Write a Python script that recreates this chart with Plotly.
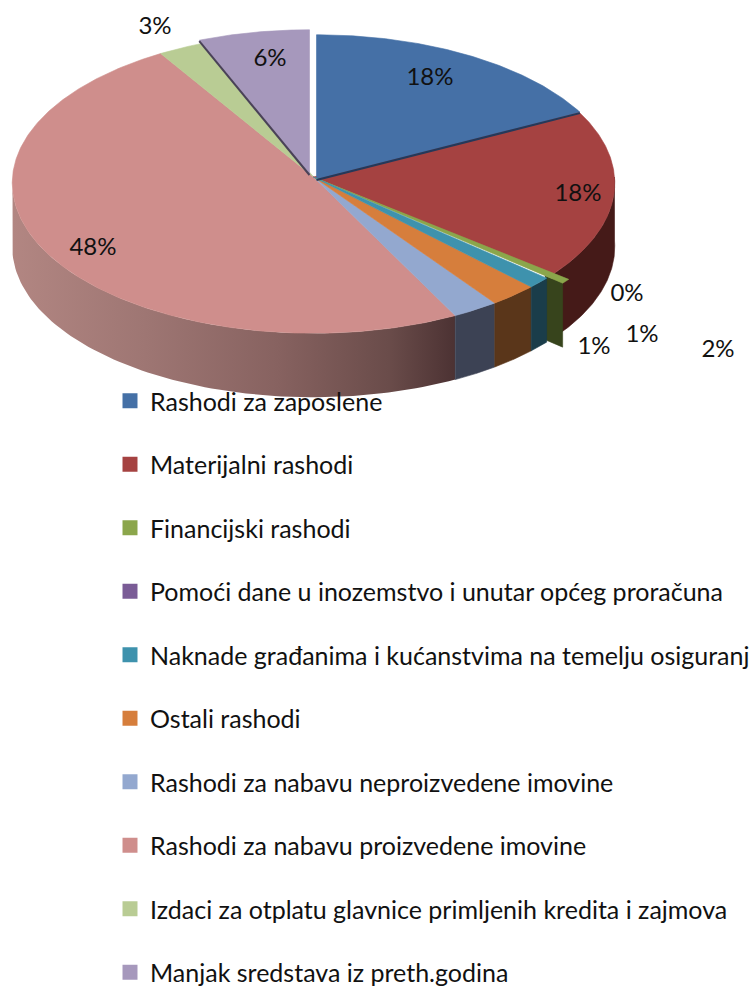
import numpy as np
import plotly.graph_objects as go

# ---- data ----
categories = [
    "Rashodi za zaposlene",
    "Materijalni rashodi",
    "Financijski rashodi",
    "Pomoći dane u inozemstvo i unutar općeg proračuna",
    "Naknade građanima i kućanstvima na temelju osiguranj",
    "Ostali rashodi",
    "Rashodi za nabavu neproizvedene imovine",
    "Rashodi za nabavu proizvedene imovine",
    "Izdaci za otplatu glavnice primljenih kredita i zajmova",
    "Manjak sredstava iz preth.godina",
]
values = [17.5, 18.4, 0.5, 0.0, 1.2, 2.5, 2.4, 48.7, 2.6, 6.2]
label_texts = ["18%", "18%", "0%", "1%", "1%", "2%", "48%", "3%", "6%"]

# ---- styles and geometry ----
top_colors = ["#4570A6", "#A54241", "#8BA64B", "#7A5C96", "#3E92AD",
              "#D67E3C", "#93A8CF", "#CF8E8C", "#B9CC94", "#A698BC"]
wall_colors = ["#24395A", "#451A18", "#37441C", "#3A2A4A", "#1A3D4A",
               "#5A361A", "#3C4254", None, "#5A6A45", "#4A4258"]
wall_gradient = [[0, "#B28682"], [0.3, "#9E7673"], [0.6, "#876260"], [0.85, "#6A4C4A"], [1, "#4C3233"]]
offsets = [(3, 2), (0, 0), (16, 5), (0, 0), (0, 0), (0, 0), (0, 0), (0, 0), (0, 0), (-4, -3)]
label_pos = [(430, 79), (578, 195), (627, 295), (642, 336), (594, 348),
             (718, 351), (93, 249), (155, 28), (270, 60)]
CX, CY, A, B, K, DEPTH = 313.5, 177, 301, 150, 0.04, 64
FONT = "Lato"
FIG_H = 1020  # taller than the window so the last legend row stays in one piece


def project(theta_deg):
    t = np.radians(theta_deg)
    u, v = np.sin(t), -np.cos(t)
    w = 1 - K * v
    return CX + A * u / w, CY + B * v / w


fig = go.Figure()
total = sum(values)
edges = np.cumsum([0] + values) / total * 360
spans = list(zip(edges[:-1], edges[1:]))


def draw(xs, ys, color, name):
    fig.add_trace(go.Scatter(
        x=xs, y=ys, mode="lines", fill="toself", fillcolor=color,
        line=dict(color=color, width=0.6), name=name, showlegend=False,
        hoverinfo="name"))


# outer walls (only the arc facing the viewer shows)
for i in [1, 2, 7, 6, 5, 4]:
    t0, t1 = spans[i]
    dx, dy = offsets[i]
    if i == 2:
        # the pulled-out sliver shows its flat radial cut face
        ex, ey = project(t1)
        ex, ey = ex + dx, ey + dy
        px, py = CX + 0.93 * (ex - CX), CY + 0.93 * (ey - CY)
        draw([px, ex, ex, px, px], [py, ey, ey + DEPTH, py + DEPTH, py],
             wall_colors[i], categories[i])
        continue
    s0, s1 = max(t0, 90), min(t1, 270)
    if s1 <= s0:
        continue
    x, y = project(np.linspace(s0, s1, 90))
    x, y = x + dx, y + dy
    xs = np.r_[x, x[::-1], x[0]]
    ys = np.r_[y, y[::-1] + DEPTH, y[0]]
    if wall_colors[i] is None:
        fig.add_trace(go.Scatter(
            x=xs, y=ys, mode="lines", fill="toself",
            fillgradient=dict(type="horizontal", colorscale=wall_gradient),
            line=dict(width=0), name=categories[i], showlegend=False, hoverinfo="name"))
    else:
        draw(xs, ys, wall_colors[i], categories[i])

# top faces
for i in [7, 8, 6, 5, 1, 0, 2, 4, 9]:
    t0, t1 = spans[i]
    if t1 <= t0:
        continue
    x, y = project(np.linspace(t0, t1, max(3, int(t1 - t0) * 2)))
    dx, dy = offsets[i]
    # the sliver keeps its point at the centre; other slices shift whole
    ax, ay = (CX + 2, CY + 1) if i == 2 else (CX + dx, CY + dy)
    draw(np.r_[ax, x + dx, ax], np.r_[ay, y + dy, ay], top_colors[i], categories[i])

# dark cut edges of the two pulled-out slices
for i, theta in [(0, spans[0][1]), (9, spans[9][0])]:
    dx, dy = offsets[i]
    ex, ey = project(theta)
    fig.add_trace(go.Scatter(
        x=[CX + dx, ex + dx], y=[CY + dy + 1, ey + dy + 1], mode="lines",
        line=dict(color=wall_colors[i], width=2), showlegend=False, hoverinfo="skip"))

# legend entries
for i, name in enumerate(categories):
    fig.add_trace(go.Scatter(
        x=[None], y=[None], mode="markers", name=name, legendgroup=f"g{i}",
        marker=dict(symbol="square", size=15, color=top_colors[i])))

# data labels
fig.add_trace(go.Scatter(
    x=[p[0] for p in label_pos], y=[p[1] for p in label_pos], mode="text",
    text=label_texts, textposition="middle center",
    textfont=dict(family=FONT, size=24, color="#111111"),
    showlegend=False, hoverinfo="skip"))

fig.update_layout(
    width=752, height=FIG_H,
    margin=dict(l=0, r=0, t=0, b=0, autoexpand=False),
    paper_bgcolor="white", plot_bgcolor="white",
    xaxis=dict(range=[0, 752], visible=False, fixedrange=True),
    yaxis=dict(range=[FIG_H, 0], visible=False, fixedrange=True),
    font=dict(family=FONT, color="#111111"),
    legend=dict(
        x=110 / 752, xanchor="left", y=1 - 378 / FIG_H, yanchor="top",
        bgcolor="rgba(0,0,0,0)", font=dict(family=FONT, size=25),
        tracegroupgap=28, itemclick=False, itemdoubleclick=False),
)
fig.write_html(
    "out.html",
    config={"displayModeBar": False},
    post_script="document.body.style.margin='0';document.documentElement.style.overflow='hidden';document.body.style.overflow='hidden';",
)
